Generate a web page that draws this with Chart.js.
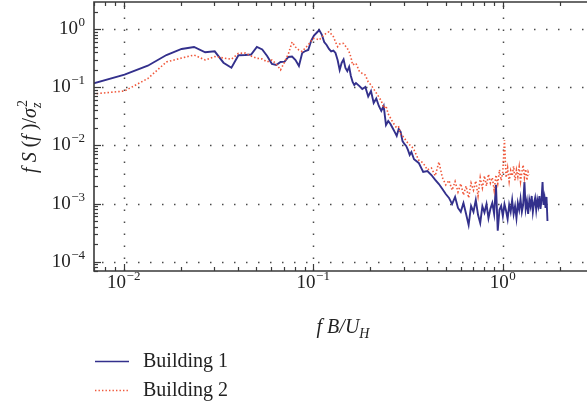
<!DOCTYPE html>
<html>
<head>
<meta charset="utf-8">
<script src="https://cdn.jsdelivr.net/npm/chart.js@4.4.0/dist/chart.umd.min.js"></script>
<style>
  html, body { margin: 0; padding: 0; background: #fff; overflow: hidden; }
  #wrap { width: 587px; height: 407px; }
</style>
</head>
<body>
<div id="wrap"><canvas id="spectrum" width="587" height="407"></canvas></div>
<script>
// ---------- Data: reduced frequency fB/U_H and normalised spectra ----------
const freq = [
  0.0069, 0.0101, 0.0134, 0.0168, 0.0202, 0.0235, 0.0269, 0.0302, 0.0336, 0.037,
  0.0403, 0.0437, 0.047, 0.0504, 0.0538, 0.0571, 0.0605, 0.0638, 0.0672, 0.0706,
  0.0739, 0.0773, 0.0806, 0.084, 0.0874, 0.0907, 0.0941, 0.0974, 0.1008, 0.1042,
  0.1075, 0.1109, 0.1142, 0.1176, 0.121, 0.1243, 0.1277, 0.131, 0.1344, 0.1378,
  0.1411, 0.1445, 0.1478, 0.1512, 0.1546, 0.1579, 0.1613, 0.1646, 0.168,
  0.1747, 0.1814, 0.1882, 0.1949, 0.2016, 0.2083, 0.215, 0.2218, 0.2285, 0.2352,
  0.2419, 0.2486, 0.2554, 0.2621, 0.2688, 0.2755, 0.2822, 0.289, 0.2957, 0.3024,
  0.3091, 0.3158, 0.3226, 0.3293,
  0.34, 0.36, 0.38, 0.40, 0.42, 0.44, 0.46, 0.48, 0.50, 0.52,
  0.54, 0.56, 0.58, 0.60, 0.62, 0.64, 0.66, 0.68, 0.70, 0.72,
  0.74, 0.76, 0.78, 0.80, 0.82, 0.84, 0.86, 0.88, 0.90, 0.92,
  0.94, 0.96, 0.98, 1.00, 1.02, 1.04, 1.06, 1.08, 1.10, 1.12,
  1.14, 1.16, 1.18, 1.20, 1.22, 1.24, 1.26, 1.28, 1.30, 1.32,
  1.34, 1.36, 1.38, 1.40, 1.42, 1.44, 1.46, 1.48, 1.50, 1.52,
  1.54, 1.56, 1.58, 1.60, 1.62, 1.64, 1.66, 1.68, 1.70, 1.72
];

const building1 = [
  0.117, 0.166, 0.236, 0.361, 0.458, 0.496, 0.402, 0.418, 0.266, 0.218,
  0.357, 0.36, 0.368, 0.496, 0.449, 0.347, 0.253, 0.243, 0.274, 0.277,
  0.334, 0.34, 0.296, 0.234, 0.391, 0.423, 0.44, 0.629, 0.782, 0.873,
  0.973, 0.813, 0.604, 0.537, 0.458, 0.415, 0.428, 0.391, 0.296, 0.2,
  0.263, 0.302, 0.216, 0.191, 0.227, 0.157, 0.124, 0.11, 0.119,
  0.106, 0.0938, 0.1017, 0.0697, 0.0867, 0.0539, 0.0644, 0.0479, 0.0393, 0.0479,
  0.0225, 0.0264, 0.0234, 0.02, 0.0171, 0.0146, 0.0192, 0.0171, 0.0119, 0.0106,
  0.0098, 0.0084, 0.00686, 0.00773,
  0.0058, 0.005, 0.0035, 0.00364, 0.0031, 0.00255, 0.00217, 0.00178, 0.00146, 0.00125,
  0.00098, 0.0013, 0.00084, 0.00072, 0.00102, 0.00066, 0.00043, 0.00091, 0.00072, 0.00115,
  0.00064, 0.00046, 0.0009, 0.0007, 0.00098, 0.00056, 0.00081, 0.00102, 0.00066, 0.0021,
  0.00034, 0.00078, 0.00091, 0.00061, 0.00098, 0.00075, 0.00054, 0.00095, 0.00072, 0.00115,
  0.00066, 0.0009, 0.00056, 0.00102, 0.00078, 0.0012, 0.00072, 0.00095, 0.00235, 0.00081,
  0.0011, 0.00066, 0.00115, 0.0009, 0.00135, 0.00072, 0.00102, 0.00125, 0.00078, 0.00115,
  0.00091, 0.00135, 0.00081, 0.00115, 0.00235, 0.00095, 0.00125, 0.00084, 0.0013, 0.0005
];

// building 2 stops earlier (last value at fB/U_H = 1.38)
const building2 = [
  0.0769, 0.0867, 0.142, 0.274, 0.32, 0.361, 0.296, 0.34, 0.321, 0.305,
  0.386, 0.39, 0.347, 0.317, 0.308, 0.274, 0.296, 0.253, 0.2, 0.274,
  0.376, 0.604, 0.496, 0.44, 0.415, 0.477, 0.537, 0.629, 0.695, 0.681,
  0.654, 0.737, 0.798, 0.864, 0.909, 0.83, 0.746, 0.604, 0.502, 0.558,
  0.574, 0.57, 0.516, 0.471, 0.407, 0.334, 0.243, 0.253, 0.26,
  0.191, 0.173, 0.163, 0.124, 0.11, 0.0938, 0.0801, 0.0684, 0.0583, 0.0442,
  0.0479, 0.0348, 0.0297, 0.0254, 0.0225, 0.02, 0.0208, 0.0158, 0.0146, 0.0135,
  0.0119, 0.011, 0.0102, 0.0098,
  0.0084, 0.0056, 0.005, 0.0038, 0.0041, 0.003, 0.0052, 0.0028, 0.0021, 0.0025,
  0.0017, 0.0024, 0.00158, 0.0022, 0.0014, 0.002, 0.00125, 0.00226, 0.0017, 0.00245,
  0.00135, 0.0028, 0.00185, 0.003, 0.002, 0.0032, 0.00226, 0.0028, 0.0017, 0.0031,
  0.0022, 0.0038, 0.0025, 0.0035, 0.0124, 0.0028, 0.0041, 0.0024, 0.0037, 0.003,
  0.0044, 0.0025, 0.0038, 0.0029, 0.0043, 0.0024, 0.0035, 0.0046, 0.0028, 0.0039,
  0.0025, 0.0035, 0.0031
];

const seriesNames = ["Building 1", "Building 2"];
const xDecades = [-2, -1, 0];          // labelled ticks 10^k on x
const yDecades = [-4, -3, -2, -1, 0];  // labelled ticks 10^k on y

// ---------- Look ----------
const X_MIN = 0.00697, X_MAX = 2.78;
const Y_MIN = 6.9e-5, Y_MAX = 2.95;
const BLUE = "#33308c";
const RED = "#f0583b";
const AXIS = "#3a3a3a";
const SERIF = '"Liberation Serif", "DejaVu Serif", serif';

function toPoints(values) {
  return values.map((v, i) => ({ x: freq[i], y: v }));
}

// ---------- Text helpers ----------
function font(size, italic) {
  return `${italic ? "italic " : ""}${size}px ${SERIF}`;
}

// "10" with a raised exponent; align: "center" or "right"
function drawPower(ctx, exp, x, y, align) {
  const base = "10";
  const sup = exp === 0 ? "0" : "\u2212" + Math.abs(exp);
  ctx.font = font(19);
  const wb = ctx.measureText(base).width;
  ctx.font = font(13);
  const ws = ctx.measureText(sup).width;
  const total = wb + ws + 0.5;
  const left = align === "center" ? x - total / 2 : x - total;
  ctx.textAlign = "left";
  ctx.textBaseline = "alphabetic";
  ctx.font = font(19);
  ctx.fillText(base, left, y + 6);
  ctx.font = font(13);
  ctx.fillText(sup, left + wb + 0.5, y - 2);
}

// runs of text with italic / sub / sup pieces, laid out left to right
function richWidth(ctx, parts) {
  let w = 0;
  parts.forEach((p) => {
    ctx.font = font(p.size, p.italic);
    const pw = ctx.measureText(p.t).width;
    if (p.stack) {
      ctx.font = font(p.stack.size, p.stack.italic);
      w += Math.max(pw, ctx.measureText(p.stack.t).width);
    } else {
      w += pw;
    }
  });
  return w;
}

function drawRich(ctx, parts, x, y) {
  let cx = x;
  ctx.textAlign = "left";
  ctx.textBaseline = "alphabetic";
  parts.forEach((p) => {
    ctx.font = font(p.size, p.italic);
    const pw = ctx.measureText(p.t).width;
    ctx.fillText(p.t, cx, y + (p.dy || 0));
    let adv = pw;
    if (p.stack) {
      ctx.font = font(p.stack.size, p.stack.italic);
      const sw = ctx.measureText(p.stack.t).width;
      ctx.fillText(p.stack.t, cx + (p.stack.dx || 0), y + p.stack.dy);
      adv = Math.max(pw, sw);
    }
    cx += adv;
  });
}

const yTitle = [
  { t: "f", size: 20, italic: true },
  { t: " S", size: 20, italic: true },
  { t: " (", size: 20 },
  { t: "f", size: 20, italic: true },
  { t: " )/", size: 20 },
  { t: "\u03c3", size: 20, italic: true },
  { t: "z", size: 14, italic: true, dy: 5, stack: { t: "2", size: 14, dy: -9, dx: 1 } }
];

const xTitle = [
  { t: "f", size: 20, italic: true },
  { t: " B/U", size: 20, italic: true },
  { t: "H", size: 14, italic: true, dy: 5 }
];

// ---------- Frame, ticks, grid, labels and legend ----------
const framePlugin = {
  id: "frame",
  beforeDatasetsDraw(chart) {
    const { ctx, chartArea: a, scales } = chart;
    ctx.save();
    ctx.strokeStyle = "#4a4a4a";
    ctx.lineWidth = 1.5;
    ctx.setLineDash([1.5, 10.5]);
    xDecades.forEach((k) => {
      const px = Math.round(scales.x.getPixelForValue(Math.pow(10, k))) + 0.5;
      ctx.beginPath();
      ctx.moveTo(px, a.bottom);
      ctx.lineTo(px, a.top);
      ctx.stroke();
    });
    yDecades.forEach((k) => {
      const py = Math.round(scales.y.getPixelForValue(Math.pow(10, k))) + 0.5;
      ctx.beginPath();
      ctx.moveTo(a.left + 8, py);
      ctx.lineTo(a.right, py);
      ctx.stroke();
    });
    ctx.restore();
  },
  afterDraw(chart) {
    const { ctx, chartArea: a, scales } = chart;
    const xs = scales.x, ys = scales.y;
    ctx.save();

    // frame: left, bottom and top edges
    ctx.strokeStyle = AXIS;
    ctx.lineWidth = 1.6;
    ctx.beginPath();
    ctx.moveTo(a.right + 1, a.top);
    ctx.lineTo(a.left, a.top);
    ctx.lineTo(a.left, a.bottom);
    ctx.lineTo(a.right + 1, a.bottom);
    ctx.stroke();

    // inward ticks, long at decades and short at 2..9
    ctx.lineWidth = 1.2;
    for (let k = -3; k <= 0; k++) {
      for (let m = 1; m <= 9; m++) {
        const v = m * Math.pow(10, k);
        if (v < X_MIN || v > X_MAX) continue;
        const px = Math.round(xs.getPixelForValue(v)) + 0.5;
        const len = m === 1 ? 7 : 4;
        ctx.beginPath();
        ctx.moveTo(px, a.bottom);
        ctx.lineTo(px, a.bottom - len);
        ctx.moveTo(px, a.top);
        ctx.lineTo(px, a.top + len);
        ctx.stroke();
      }
    }
    for (let k = -5; k <= 0; k++) {
      for (let m = 1; m <= 9; m++) {
        const v = m * Math.pow(10, k);
        if (v < Y_MIN || v > Y_MAX) continue;
        const py = Math.round(ys.getPixelForValue(v)) + 0.5;
        const len = m === 1 ? 7 : 4;
        ctx.beginPath();
        ctx.moveTo(a.left, py);
        ctx.lineTo(a.left + len, py);
        ctx.stroke();
      }
    }

    // tick labels
    ctx.fillStyle = "#222";
    xDecades.forEach((k) => {
      drawPower(ctx, k, xs.getPixelForValue(Math.pow(10, k)), 282, "center");
    });
    yDecades.forEach((k) => {
      drawPower(ctx, k, 85, ys.getPixelForValue(Math.pow(10, k)) - 1, "right");
    });

    // axis titles
    const xw = richWidth(ctx, xTitle);
    drawRich(ctx, xTitle, 343 - xw / 2, 333);

    const yw = richWidth(ctx, yTitle);
    ctx.save();
    ctx.translate(36, 137);
    ctx.rotate(-Math.PI / 2);
    drawRich(ctx, yTitle, -yw / 2, 0);
    ctx.restore();

    // legend below the plot
    const rows = [
      { name: seriesNames[0], color: BLUE, dash: [], width: 1.6, y: 361.5 },
      { name: seriesNames[1], color: RED, dash: [1.4, 2.1], width: 1.4, y: 390.5 }
    ];
    rows.forEach((r) => {
      ctx.strokeStyle = r.color;
      ctx.lineWidth = r.width;
      ctx.setLineDash(r.dash);
      ctx.beginPath();
      ctx.moveTo(95, r.y);
      ctx.lineTo(129, r.y);
      ctx.stroke();
      ctx.setLineDash([]);
      ctx.fillStyle = "#222";
      ctx.font = font(20);
      ctx.textAlign = "left";
      ctx.textBaseline = "alphabetic";
      ctx.fillText(r.name, 143, r.y + 5);
    });

    ctx.restore();
  }
};

// ---------- Chart ----------
new Chart(document.getElementById("spectrum"), {
  type: "line",
  data: {
    datasets: [
      {
        label: seriesNames[1],
        data: toPoints(building2),
        borderColor: RED,
        borderWidth: 1.6,
        borderDash: [1.5, 2.1],
        pointRadius: 0,
        tension: 0,
        order: 0
      },
      {
        label: seriesNames[0],
        data: toPoints(building1),
        borderColor: BLUE,
        borderWidth: 1.9,
        pointRadius: 0,
        tension: 0,
        order: 1
      }
    ]
  },
  options: {
    responsive: false,
    animation: false,
    layout: { padding: { left: 94, top: 2, right: 0, bottom: 136 } },
    plugins: { legend: { display: false }, tooltip: { enabled: false } },
    scales: {
      x: { type: "logarithmic", min: X_MIN, max: X_MAX, display: false },
      y: { type: "logarithmic", min: Y_MIN, max: Y_MAX, display: false }
    }
  },
  plugins: [framePlugin]
});
</script>
</body>
</html>
